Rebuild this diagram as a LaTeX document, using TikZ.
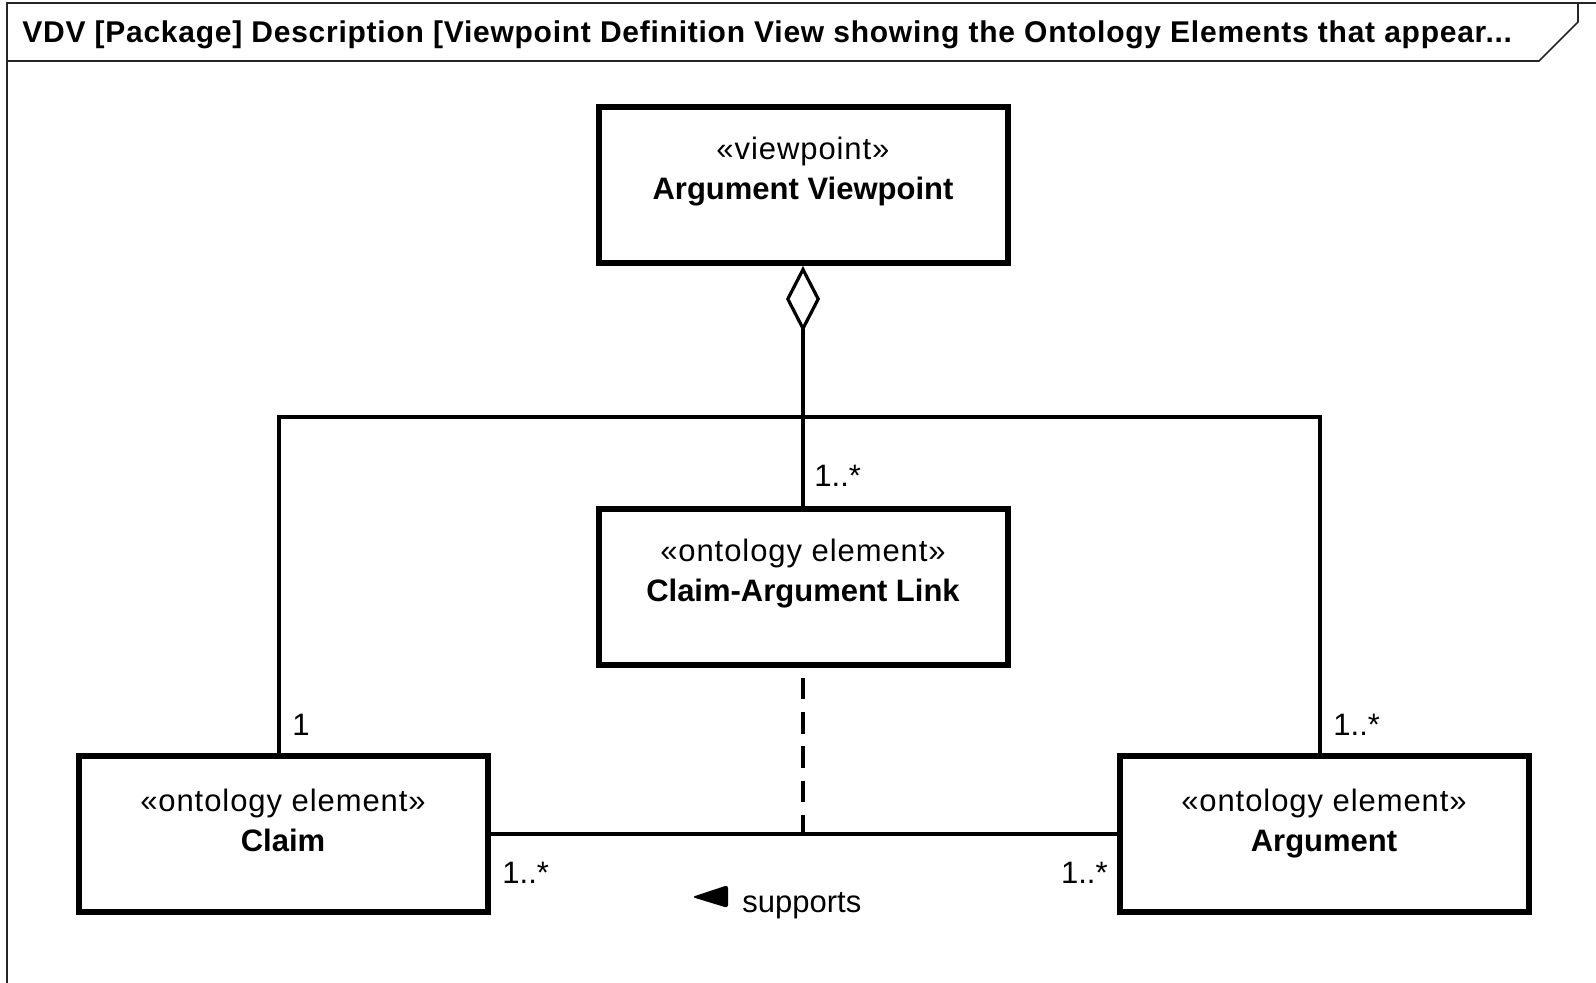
\documentclass[tikz,border=0pt]{standalone}
\usepackage{fontspec}
\setmainfont{Liberation Sans}
\usetikzlibrary{arrows.meta,positioning}

\newcommand{\stereo}[1]{{\addfontfeature{LetterSpace=3}«#1»}}

\tikzset{
  block/.style={draw, line width=3pt, minimum width=204.5pt, minimum height=78pt,
    align=center, inner sep=0pt, font=\fontsize{15.5}{20}\selectfont},
  assoc/.style={line width=1.6pt},
  aggr/.style={assoc, {Diamond[open,length=33pt,width=17pt]}-},
  link/.style={assoc, dash pattern=on 10.75pt off 6.35pt},
  mult/.style={inner sep=0pt, font=\fontsize{15.5}{20}\selectfont},
  frame/.style={line width=0.8pt, black!85},
}

\begin{document}
\begin{tikzpicture}[x=0.5pt,y=-0.5pt]
\fill[white] (0,0) rectangle (1596,983);
\useasboundingbox (0,0) rectangle (1596,983);
% frame and title tab
\draw[frame] (7,983) -- (7,3) -- (1596,3);
\draw[frame] (7,61) -- (1539,61) -- (1578,22) -- (1578,3);
\node[anchor=base west, inner sep=0pt,
  font=\bfseries\fontsize{15}{17}\selectfont\addfontfeature{LetterSpace=2.5}] (title) at (22,43)
  {VDV [Package] Description [Viewpoint Definition View showing the Ontology Elements that appear...};

% blocks
\node[block] (vp) at (803,185) {\stereo{viewpoint}\\\textbf{Argument Viewpoint}\\[-3pt]\mbox{}};
\node[block] (cal) at (803,587) {\stereo{ontology element}\\\textbf{Claim-Argument Link}\\[-3pt]\mbox{}};
\node[block] (claim) at (283,834) {\stereo{ontology element}\\\textbf{Claim}\\[-6pt]\mbox{}};
\node[block] (arg) at (1324,834) {\stereo{ontology element}\\\textbf{Argument}\\[-6pt]\mbox{}};

% connectors
\coordinate (jn) at (803,417);
\draw[aggr] (vp.south) -- (cal.north);
\draw[assoc] ([xshift=-2pt]claim.north) |- (jn) -| ([xshift=-2pt]arg.north);
\draw[assoc] (claim.east) -- (arg.west);
\draw[link] ([yshift=-5pt]cal.south) -- (cal.south |- claim.east);

% multiplicities and association name
\node[mult, anchor=base west] (m1) at (814,487) {1..*};
\node[mult, anchor=base west] (m2) at (292,735) {1};
\node[mult, anchor=base west] (m3) at (1333,735) {1..*};
\node[mult, anchor=base west] (m4) at (502,883) {1..*};
\node[mult, anchor=base east] (m5) at (1108,883) {1..*};
\node[mult, anchor=base west] (sup) at (742,912) {supports};
\fill[rounded corners=1.5pt] (692,897) -- (728,885) -- (728,908) -- cycle;
\end{tikzpicture}
\end{document}
